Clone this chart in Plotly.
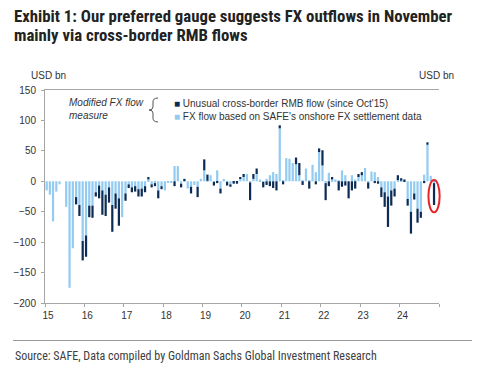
import plotly.graph_objects as go
import pandas as pd

# ---------------- data (USD bn, monthly Jan-2015 .. Nov-2024) ----------------
months = pd.date_range("2015-01-01", "2024-11-01", freq="MS")

fx_flow = [
    -15, -22, -66, -17, -5, 0, -42, -175, -110, -26, -39, -98,      # 2015
    -89, -40, -40, -18, -7, -15, -22, -10, -39, -20, -28, -59,      # 2016
    -20, -5, -10, -8, -13, -12, -8, 3, -5, -3, -15, -8,              # 2017
    -15, -2, -2, 25, 25, -4, 1, -12, -9, -6, -9, 4,                  # 2018
    18, 1, 10, -1, 18, -12, 4, -1, -5, -1, -1, 4,                    # 2019
    7, 12, -2, 4, 12, 3, -1, 4, 10, 15, 12, 87,                      # 2020
    2, 38, 37, 30, 28, 10, 2, 21, 2, 27, 15, 48,                     # 2021
    26, -3, 14, 3, 3, 2, 18, 10, 0, 10, 3, 7,                        # 2022
    10, 22, -2, 16, 15, 7, -10, -18, -25, -15, -12, 2,               # 2023
    1, 0, -29, -50, -20, -45, -50, 11, 60, 9, -3,                    # 2024
]
rmb_flow = [
    0, 0, 0, 0, 0, 0, 0, 0, 0, -12, -18, -32,                        # 2015
    -35, -19, -20, -7, -21, -40, -35, -25, -44, -25, -45, 0,         # 2016
    -12, -6, -8, -9, -12, -13, -10, 4, -5, -5, -13, -5,              # 2017
    0, 0, 0, -8, 0, -6, 3, 0, -11, 0, -17, 0,                        # 2018
    18, 10, 0, -6, -3, -8, 0, -6, -4, -3, -3, 2,                     # 2019
    5, 0, -29, 8, 9, 0, -9, -6, -8, -11, -15, 5,                     # 2020
    -5, 0, 0, 0, 11, 20, -6, 0, -12, 0, -5, 6,                       # 2021
    25, -28, -8, 4, 0, -15, -9, -7, -28, -15, -12, 5,                # 2022
    5, 0, -10, 0, -3, -4, -16, -24, -50, -25, -13, 8,                # 2023
    4, 3, -11, -36, -10, -23, -10, -3, 4, 0, -36,                    # 2024
]
assert len(fx_flow) == len(months) == len(rmb_flow)

year_ticks = [f"{y}-01-01" for y in range(2015, 2026)]
year_labels = ["15", "16", "17", "18", "19", "20", "21", "22", "23", "24", ""]
x_start, x_end = pd.Timestamp("2015-01-01"), pd.Timestamp("2025-01-01")

LIGHT = "#93cbf1"
DARK = "#0c2c55"
AXIS = "#a6a6a6"
TXT = "#333333"
SANS = "Liberation Sans, Arial, sans-serif"
NARROW = "Roboto Condensed, Liberation Sans Narrow, Arial Narrow, sans-serif"

W, H = 477, 373
ML, MR, MT, MB = 45, 38, 90, 70
PW, PH = W - ML - MR, H - MT - MB


def px(xp, yp):
    return (xp - ML) / PW, (H - MB - yp) / PH


fig = go.Figure()
fig.add_bar(x=months, y=fx_flow, name="FX flow based on SAFE's onshore FX settlement data",
            marker=dict(color=LIGHT, line_width=0), xperiod="M1", xperiodalignment="middle")
fig.add_bar(x=months, y=rmb_flow, name="Unusual cross-border RMB flow (since Oct'15)",
            marker=dict(color=DARK, line_width=0), xperiod="M1", xperiodalignment="middle")

fig.update_layout(
    width=W, height=H, margin=dict(l=ML, r=MR, t=MT, b=MB),
    paper_bgcolor="white", plot_bgcolor="white",
    barmode="relative", bargap=0.3, showlegend=False,
    font=dict(family=SANS, size=10, color=TXT),
    xaxis=dict(
        type="date", range=[x_start, x_end],
        tickvals=year_ticks, ticktext=year_labels, ticks="outside", ticklen=3,
        tickcolor=AXIS, showline=True, linecolor=AXIS, mirror=True,
        showgrid=False, zeroline=False, ticklabelshift=3,
        tickfont=dict(size=10, color=TXT),
    ),
    yaxis=dict(
        range=[-200, 150], dtick=50, ticks="outside", ticklen=3, tickcolor=AXIS,
        showline=True, linecolor=AXIS, showgrid=False, zeroline=False,
        tickfont=dict(size=10, color=TXT), ticklabelstandoff=3,
    ),
    yaxis2=dict(
        overlaying="y", side="right", anchor="x", range=[-200, 150], dtick=50,
        ticks="outside", ticklen=3, tickcolor=AXIS, showline=True, linecolor=AXIS,
        showgrid=False, zeroline=False, tickfont=dict(size=10, color=TXT),
        ticklabelstandoff=2,
    ),
)

# title (two lines)
title_lines = ["Exhibit 1: Our preferred gauge suggests FX outflows in November",
               "mainly via cross-border RMB flows"]
for line, yc in zip(title_lines, (16, 35)):
    fig.add_annotation(text=f"<b>{line}</b>", x=px(12, 0)[0], y=px(0, yc)[1], xref="paper", yref="paper",
                       xanchor="left", yanchor="middle", showarrow=False,
                       font=dict(family=NARROW, size=16.8, color="#222222"))

# axis unit labels
fig.add_annotation(text="USD bn", x=px(29, 0)[0], y=px(0, 76)[1], xref="paper", yref="paper",
                   xanchor="left", yanchor="middle", showarrow=False, font=dict(size=10, color=TXT))
fig.add_annotation(text="USD bn", x=px(456, 0)[0], y=px(0, 76)[1], xref="paper", yref="paper",
                   xanchor="right", yanchor="middle", showarrow=False, font=dict(size=10, color=TXT))

# legend block
fig.add_annotation(text="<i>Modified FX flow<br>measure</i>", x=px(67, 0)[0], y=px(0, 109)[1],
                   xref="paper", yref="paper", xanchor="left", yanchor="middle", align="left",
                   showarrow=False, font=dict(size=10, color=TXT))
legend_text = (f"<span style='color:{DARK}'>■</span> Unusual cross-border RMB flow (since Oct'15)<br>"
               f"<span style='color:{LIGHT}'>■</span> FX flow based on SAFE's onshore FX settlement data")
fig.add_annotation(text=legend_text, x=px(172, 0)[0], y=px(0, 110)[1],
                   xref="paper", yref="paper", xanchor="left", yanchor="middle", align="left",
                   showarrow=False, font=dict(size=10, color=TXT))

# curly brace
pts = {k: px(*v) for k, v in dict(a=(158, 98), b=(153, 98), c=(153, 102), d=(153, 107), e=(153, 110),
                                  f=(149, 110), g=(153, 113), h=(153, 118), i=(153, 122), j=(158, 122)).items()}
def P(k):
    return f"{pts[k][0]:.4f},{pts[k][1]:.4f}"
brace = f"M {P('a')} Q {P('b')} {P('c')} L {P('d')} Q {P('e')} {P('f')} Q {P('e')} {P('g')} L {P('h')} Q {P('i')} {P('j')}"
fig.add_shape(type="path", path=brace, xref="paper", yref="paper", line=dict(color="#555555", width=1))

# red highlight ellipse around the last month (x in paper units so it is not clipped)
span = (x_end - x_start)
last_mid = months[-1] + pd.Timedelta(days=15)
half = pd.Timedelta(days=52)
last_total = fx_flow[-1] + rmb_flow[-1]
fig.add_shape(type="circle", xref="paper", yref="y",
              x0=(last_mid - half - x_start) / span, x1=(last_mid + half - x_start) / span,
              y0=last_total - 12, y1=2, line=dict(color="#e3262b", width=2))

# footer rule and source
x0p, _ = px(13, 0)
x1p, yrule = px(472, 340.5)
fig.add_shape(type="line", xref="paper", yref="paper", x0=x0p, x1=x1p, y0=yrule, y1=yrule,
              line=dict(color="#9a9a9a", width=1))
fig.add_annotation(text="Source: SAFE, Data compiled by Goldman Sachs Global Investment Research",
                   x=x0p, y=px(0, 356)[1], xref="paper", yref="paper", xanchor="left", yanchor="middle",
                   showarrow=False, font=dict(family=NARROW, size=12, color="#404040"))

fig.write_html("out.html", config={"displayModeBar": False},
               post_script="document.body.style.margin='0';document.body.style.overflow='hidden';")
